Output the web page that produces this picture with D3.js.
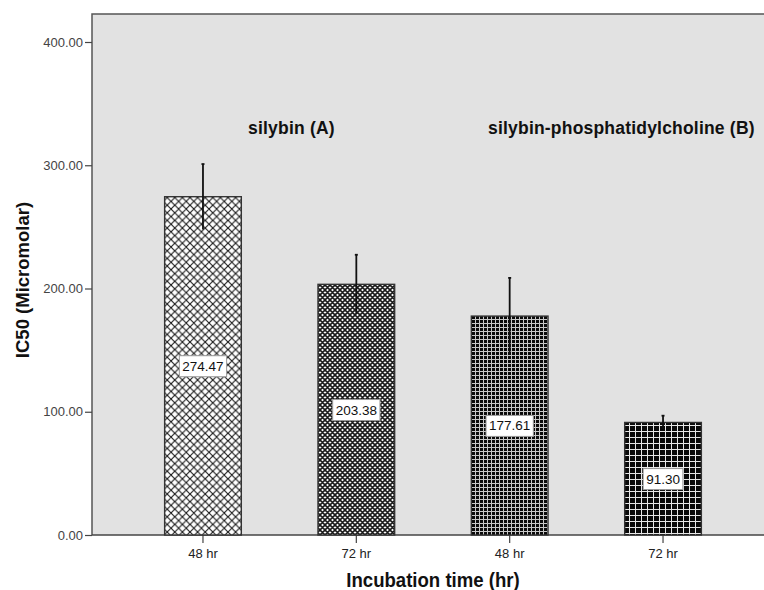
<!DOCTYPE html>
<html>
<head>
<meta charset="utf-8">
<script src="https://cdn.jsdelivr.net/npm/d3@7"></script>
<style>
  html, body { margin: 0; padding: 0; background: #fff; }
  svg { display: block; }
  text { font-family: "Liberation Sans", Arial, sans-serif; }
</style>
</head>
<body>
<svg id="chart" width="764" height="590"></svg>
<script>
// ---- data ----
const categories = ["A48", "A72", "B48", "B72"];
const tickLabels = ["48 hr", "72 hr", "48 hr", "72 hr"];
const values = [274.47, 203.38, 177.61, 91.30];
const errors = [26.5, 24.0, 31.0, 5.5];
const valueLabels = ["274.47", "203.38", "177.61", "91.30"];
const patterns = ["p0", "p1", "p2", "p3"];
const groupLabels = ["silybin (A)", "silybin-phosphatidylcholine (B)"];
const yTicks = [0, 100, 200, 300, 400];

const svg = d3.select("#chart");

// ---- patterns ----
const defs = svg.append("defs");
function diag(id, s, w) {
  const p = defs.append("pattern").attr("id", id).attr("patternUnits", "userSpaceOnUse")
    .attr("width", s).attr("height", s);
  p.append("rect").attr("width", s).attr("height", s).attr("fill", "#fff");
  p.append("path").attr("d", `M0,0L${s},${s}M${s},0L0,${s}M${-s/2},${s/2}L${s/2},${s*1.5}M${s/2},${-s/2}L${s*1.5},${s/2}M${s/2},${-s/2}L${-s/2},${s/2}M${s*1.5},${s/2}L${s/2},${s*1.5}`)
    .attr("stroke", "#1a1a1a").attr("stroke-width", w);
}
function grid(id, s, sq, bg) {
  const p = defs.append("pattern").attr("id", id).attr("patternUnits", "userSpaceOnUse")
    .attr("width", s).attr("height", s);
  p.append("rect").attr("width", s).attr("height", s).attr("fill", bg);
  p.append("rect").attr("width", sq).attr("height", sq).attr("fill", "#0a0a0a");
}
diag("p0", 7.6, 1.15);
diag("p1", 5, 1.6);
grid("p2", 4, 3, "#c8c8c8");
grid("p3", 6, 5, "#e8e8e8");

// ---- scales ----
const x = d3.scaleBand().domain(categories).range([126.3, 739.7]).paddingInner(0.5).paddingOuter(0.25);
const y = d3.scaleLinear().domain([0, 400]).range([535, 42]);
const plotTop = 14, plotLeft = 92, plotRight = 764;

// plot background
svg.append("rect").attr("x", plotLeft).attr("y", plotTop).attr("width", plotRight - plotLeft).attr("height", y(0) - plotTop)
  .attr("fill", "#e2e2e2");
svg.append("path").attr("d", `M${plotLeft},${y(0)}V${plotTop}H${plotRight}`).attr("fill", "none")
  .attr("stroke", "#555").attr("stroke-width", 1.5);

// y axis
const yAxis = svg.append("g").attr("transform", `translate(${plotLeft},0)`)
  .call(d3.axisLeft(y).tickValues(yTicks).tickFormat(d3.format(".2f")).tickSize(7).tickPadding(2));
yAxis.select(".domain").remove();
yAxis.selectAll(".tick line").attr("stroke", "#444").attr("stroke-width", 1.2);
yAxis.selectAll(".tick text").attr("font-size", 13).attr("fill", "#444")
  .attr("font-family", "Liberation Sans, Arial, sans-serif");

// x axis
const xAxis = svg.append("g").attr("transform", `translate(0,${y(0)})`)
  .call(d3.axisBottom(x).tickFormat((d, i) => tickLabels[i]).tickSize(8).tickPadding(6));
xAxis.select(".domain").attr("d", `M${plotLeft},0H${plotRight}`).attr("stroke", "#444").attr("stroke-width", 1.5);
xAxis.selectAll(".tick line").attr("stroke", "#444").attr("stroke-width", 1.2);
xAxis.selectAll(".tick text").attr("font-size", 13).attr("fill", "#222")
  .attr("font-family", "Liberation Sans, Arial, sans-serif");

// bars
svg.append("g").selectAll("rect").data(categories).join("rect")
  .attr("x", d => x(d)).attr("width", x.bandwidth())
  .attr("y", (d, i) => y(values[i])).attr("height", (d, i) => y(0) - y(values[i]))
  .attr("fill", (d, i) => `url(#${patterns[i]})`)
  .attr("stroke", "#333").attr("stroke-width", 1.4);

// error bars
const eb = svg.append("g").selectAll("g").data(categories).join("g");
eb.append("line")
  .attr("x1", d => x(d) + x.bandwidth() / 2).attr("x2", d => x(d) + x.bandwidth() / 2)
  .attr("y1", (d, i) => y(values[i] - errors[i])).attr("y2", (d, i) => y(values[i] + errors[i]))
  .attr("stroke", "#111").attr("stroke-width", 1.8);
eb.append("line")
  .attr("x1", d => x(d) + x.bandwidth() / 2 - 1.5).attr("x2", d => x(d) + x.bandwidth() / 2 + 1.5)
  .attr("y1", (d, i) => y(values[i] + errors[i])).attr("y2", (d, i) => y(values[i] + errors[i]))
  .attr("stroke", "#111").attr("stroke-width", 1.8);

// value labels
const vl = svg.append("g").selectAll("g").data(categories).join("g")
  .attr("transform", (d, i) => `translate(${x(d) + x.bandwidth() / 2},${y(values[i] / 2)})`);
vl.append("text").text((d, i) => valueLabels[i])
  .attr("text-anchor", "middle").attr("dy", "0.36em").attr("font-size", 13.5).attr("fill", "#111");
vl.each(function () {
  const g = d3.select(this);
  const b = g.select("text").node().getBBox();
  g.insert("rect", "text").attr("x", b.x - 3).attr("y", b.y - 3)
    .attr("width", b.width + 6).attr("height", b.height + 6)
    .attr("fill", "#fff").attr("stroke", "#999").attr("stroke-width", 1);
});

// group labels
svg.append("g").selectAll("text").data(groupLabels).join("text")
  .attr("x", (d, i) => i === 0 ? 248 : 488).attr("y", 134)
  .attr("font-size", 17.5).attr("letter-spacing", 0.2).attr("font-weight", "bold").attr("fill", "#111")
  .text(d => d);

// axis titles
svg.append("text").attr("transform", "translate(29,280) rotate(-90)")
  .attr("text-anchor", "middle").attr("font-size", 18.5).attr("font-weight", "bold").attr("fill", "#111")
  .text("IC50 (Micromolar)");
svg.append("text").attr("transform", "translate(433,587) scale(0.93,1)")
  .attr("text-anchor", "middle").attr("font-size", 20).attr("font-weight", "bold").attr("fill", "#111")
  .text("Incubation time (hr)");
</script>
</body>
</html>
